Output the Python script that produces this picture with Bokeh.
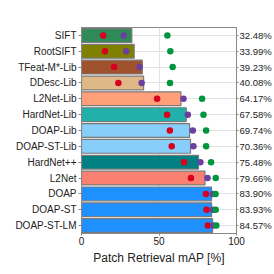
from bokeh.plotting import figure
from bokeh.models import FactorRange, Range1d, CategoricalAxis, FixedTicker, ColumnDataSource
from bokeh.embed import file_html
from bokeh.resources import INLINE

names = ["SIFT", "RootSIFT", "TFeat-M*-Lib", "DDesc-Lib", "L2Net-Lib", "HardNet-Lib",
         "DOAP-Lib", "DOAP-ST-Lib", "HardNet++", "L2Net", "DOAP", "DOAP-ST", "DOAP-ST-LM"]
mean_map = [32.48, 33.99, 39.23, 40.08, 64.17, 67.58, 69.74, 70.36, 75.48, 79.66, 83.90, 83.93, 84.57]
red_vals = [14.0, 15.1, 21.0, 23.8, 48.8, 55.2, 57.0, 58.2, 66.2, 70.6, 80.3, 80.7, 81.5]
purple_vals = [27.2, 28.8, 37.5, 38.8, 65.8, 68.6, 71.8, 72.2, 76.7, 81.3, 84.7, 84.8, 85.0]
green_vals = [55.4, 57.3, 58.8, 57.1, 77.8, 78.7, 80.4, 80.4, 83.6, 86.6, 86.5, 86.6, 87.0]
bar_colors = ["#2e8b57", "#808000", "#a0522d", "#deb887", "#ffa07a", "#20b2aa",
              "#87cefa", "#87cefa", "#008080", "#fa8072", "#1e90ff", "#1e90ff", "#1e90ff"]
pct_labels = ["%.2f%%" % v for v in mean_map]
x_ticks = [0, 50, 100]

src = ColumnDataSource(dict(name=names, value=mean_map, red=red_vals, purple=purple_vals,
                            green=green_vals, color=bar_colors))

FONT = "Liberation Sans"
p = figure(width=274, height=274,
           y_range=FactorRange(factors=list(reversed(names))),
           x_range=Range1d(0, 100),
           output_backend="svg", toolbar_location=None,
           min_border_left=81, min_border_right=36, min_border_top=27, min_border_bottom=41)

p.hbar(y="name", left=0, right="value", height=0.87, fill_color="color",
       line_color="#7a7a7a", line_width=1.2, source=src)
p.scatter(x="red", y="name", size=6.5, fill_color="#d7001f", line_color=None, source=src)
p.scatter(x="purple", y="name", size=6.5, fill_color="#6a3fa0", line_color=None, source=src)
p.scatter(x="green", y="name", size=6.5, fill_color="#00963f", line_color=None, source=src)

p.extra_y_ranges = {"pct": FactorRange(factors=list(reversed(pct_labels)))}
raxis = CategoricalAxis(y_range_name="pct")
p.add_layout(raxis, "right")

p.xaxis.ticker = FixedTicker(ticks=x_ticks)
p.xgrid.ticker = FixedTicker(ticks=x_ticks)
p.xaxis.axis_label = "Patch Retrieval mAP [%]"
p.xaxis.axis_label_text_font = FONT
p.xaxis.axis_label_text_font_style = "normal"
p.xaxis.axis_label_text_font_size = "12px"
p.xaxis.axis_label_text_color = "#222222"
p.xaxis.axis_label_standoff = 3

for ax in [p.xaxis[0], p.yaxis[0], raxis]:
    ax.major_label_text_font = FONT
    ax.major_label_text_font_size = "10px"
    ax.major_label_text_color = "#222222"
    ax.axis_line_color = "#888888"
    ax.major_tick_line_color = "#888888"
    ax.major_tick_in = 0
    ax.major_tick_out = 3
    ax.major_label_standoff = 2
    ax.minor_tick_line_color = None

raxis.major_label_text_font_size = "9.5px"
raxis.major_tick_out = 2
raxis.major_label_standoff = 1
p.xaxis.major_tick_out = 2
p.xaxis.major_label_standoff = 1

p.xgrid.grid_line_color = "#e3e3e3"
p.ygrid.grid_line_color = "#e3e3e3"
p.outline_line_color = "#888888"
p.background_fill_color = "white"
p.border_fill_color = "white"

open("out.html", "w").write(file_html(p, INLINE))
